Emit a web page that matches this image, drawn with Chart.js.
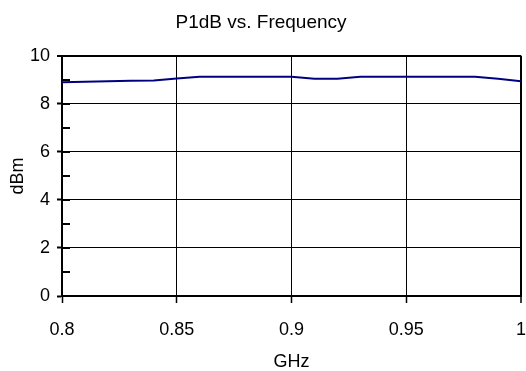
<!DOCTYPE html>
<html>
<head>
<meta charset="utf-8">
<script src="https://cdn.jsdelivr.net/npm/chart.js@4/dist/chart.umd.min.js"></script>
<style>
  html, body { margin: 0; padding: 0; background: #fff; }
  #wrap { width: 526px; height: 371px; }
</style>
</head>
<body>
<div id="wrap"><canvas id="c" width="526" height="371"></canvas></div>
<script>
const freqGHz = [0.80, 0.81, 0.82, 0.83, 0.84, 0.85, 0.86, 0.87, 0.88, 0.89, 0.90,
                 0.91, 0.92, 0.93, 0.94, 0.95, 0.96, 0.97, 0.98, 0.99, 1.00];
const p1dB    = [8.90, 8.92, 8.94, 8.96, 8.97, 9.05, 9.13, 9.13, 9.13, 9.13, 9.13,
                 9.04, 9.04, 9.13, 9.13, 9.13, 9.13, 9.13, 9.13, 9.04, 8.94];
const yMajorTicks = [0, 2, 4, 6, 8, 10];
const yMinorTicks = [1, 3, 5, 7, 9];
const xTickLabels = ['0.8', '0.85', '0.9', '0.95', '1'];

const chartTitle = 'P1dB vs. Frequency';
const xTitle = 'GHz';
const yTitle = 'dBm';

const FONT = "'Liberation Sans', Arial, sans-serif";

const innerTicks = {
  id: 'innerTicks',
  afterDraw(chart) {
    const ctx = chart.ctx, ys = chart.scales.y, left = chart.chartArea.left;
    ctx.save();
    ctx.strokeStyle = '#000';
    ctx.lineWidth = 2;
    [...yMajorTicks, ...yMinorTicks].forEach(v => {
      const py = Math.round(ys.getPixelForValue(v));
      ctx.beginPath();
      ctx.moveTo(left, py);
      ctx.lineTo(left + 8, py);
      ctx.stroke();
    });
    ctx.restore();
  }
};

new Chart(document.getElementById('c'), {
  type: 'line',
  data: {
    datasets: [{
      data: freqGHz.map((f, i) => ({ x: f, y: p1dB[i] })),
      borderColor: '#000080',
      borderWidth: 2,
      pointRadius: 0,
      tension: 0,
      fill: false
    }]
  },
  options: {
    responsive: false,
    animation: false,
    layout: { padding: { left: 0, right: 4, top: 0, bottom: 0 } },
    plugins: {
      legend: { display: false },
      tooltip: { enabled: false },
      title: {
        display: true,
        text: chartTitle,
        color: '#000',
        font: { family: FONT, size: 19, weight: 'normal', lineHeight: 1.2 },
        padding: { top: 11, bottom: 22 }
      }
    },
    scales: {
      x: {
        type: 'linear',
        min: 0.8,
        max: 1.0,
        afterBuildTicks: s => { s.ticks = xTickLabels.map(t => ({ value: parseFloat(t) })); },
        ticks: {
          color: '#000',
          font: { family: FONT, size: 18, lineHeight: 1.0 },
          padding: 18,
          maxRotation: 0,
          callback: v => String(parseFloat(v.toFixed(2)))
        },
        grid: {
          color: '#000',
          lineWidth: c => (c.tick && c.tick.value >= 0.999) ? 2 : 1,
          tickLength: 7,
          tickWidth: 1.5,
          tickColor: '#000'
        },
        border: { color: '#000', width: 2 },
        title: {
          display: true,
          text: xTitle,
          color: '#000',
          font: { family: FONT, size: 18, lineHeight: 1.0 },
          padding: { top: 10, bottom: 0 }
        },
        afterFit: s => { s.height = 75; s.paddingLeft = 0; s.paddingRight = 5; }
      },
      y: {
        min: 0,
        max: 10,
        afterBuildTicks: s => { s.ticks = yMajorTicks.map(v => ({ value: v })); },
        ticks: {
          color: '#000',
          font: { family: FONT, size: 18, lineHeight: 1.0 },
          padding: 7
        },
        grid: {
          color: '#000',
          lineWidth: c => (c.tick && c.tick.value === 10) ? 2 : 1,
          tickLength: 5,
          tickWidth: 2,
          tickColor: '#000'
        },
        border: { color: '#000', width: 2 },
        title: {
          display: true,
          text: yTitle,
          color: '#000',
          font: { family: FONT, size: 18, lineHeight: 1.0 },
          padding: { top: 9, bottom: 2 }
        },
        afterFit: s => { s.width = 62; s.paddingTop = 0; s.paddingBottom = 0; }
      }
    }
  },
  plugins: [innerTicks]
});
</script>
</body>
</html>
